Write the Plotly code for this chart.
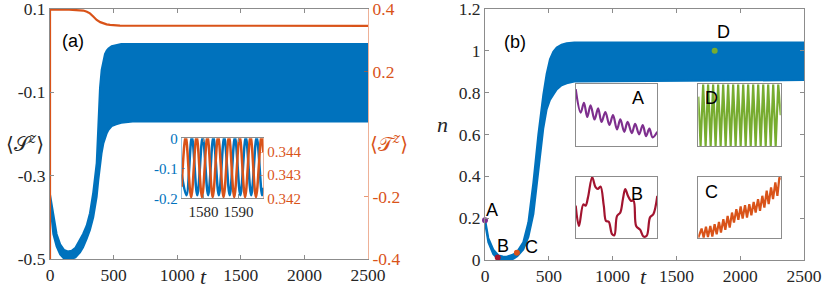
import plotly.graph_objects as go

W, H = 830, 294
def px(x): return x / W
def py(y): return 1 - y / H

BLUE = '#0072BD'; ORANGE = '#D95319'; PURPLE = '#7E2F8E'; GREEN = '#77AC30'; RED = '#A2142F'
GRAY = '#8c8c8c'; TXT = '#262626'
SERIF = 'Liberation Serif'
SANS = 'Liberation Sans'

# ---------------- Panel (a) data ----------------
ta_env = [0, 13, 26, 52, 80, 110, 140, 170, 200, 236, 260, 288, 314, 340, 367, 380, 393, 406,
          420, 432, 446, 460, 485, 520, 560, 650, 800, 2500]
sa_upper = [-0.345, -0.37, -0.40, -0.44, -0.465, -0.478, -0.482, -0.48, -0.473, -0.455, -0.44, -0.42,
            -0.39, -0.34, -0.27, -0.18, -0.09, -0.046, -0.024, -0.008, 0.0, 0.005, 0.011, 0.014,
            0.016, 0.016, 0.016, 0.016]
sa_lower = [-0.362, -0.41, -0.44, -0.47, -0.489, -0.499, -0.501, -0.5, -0.496, -0.484, -0.472, -0.452,
            -0.43, -0.40, -0.35, -0.31, -0.27, -0.245, -0.222, -0.21, -0.198, -0.19, -0.181, -0.177,
            -0.173, -0.17, -0.17, -0.17]
ta_T = [0, 0.1, 150, 230, 262, 290, 314, 340, 367, 395, 419, 445, 472, 550, 2500]
T_vals = [-0.4, 0.398, 0.398, 0.397, 0.395, 0.391, 0.386, 0.376, 0.365, 0.358, 0.354, 0.351, 0.349, 0.347, 0.346]

# inset (a)
ti_S = [1573.8, 1575.15, 1576.7, 1578.25, 1579.8, 1581.35, 1582.85, 1584.4, 1585.95, 1587.5, 1589.0,
        1590.55, 1592.1, 1593.65, 1595.2, 1596.74, 1597.1]
S_ins = [-0.12, -0.19, 0.005, -0.19, 0.005, -0.19, 0.005, -0.19, 0.005, -0.19, 0.005, -0.19, 0.005,
         -0.19, 0.005, -0.19, -0.165]
ti_T = [1573.8, 1574.95, 1576.5, 1578.05, 1579.6, 1581.15, 1582.65, 1584.2, 1585.75, 1587.3, 1588.8,
        1590.35, 1591.9, 1593.45, 1595.0, 1596.55, 1597.1]
T_ins = [0.3425, 0.3447, 0.34205, 0.3447, 0.34205, 0.3447, 0.34205, 0.3447, 0.34205, 0.3447, 0.34205,
         0.3447, 0.34205, 0.3447, 0.34205, 0.3447, 0.3440]

# ---------------- Panel (b) data ----------------
tb_env = [0, 26, 65, 105, 140, 170, 222, 253, 300, 340, 379, 418, 457, 483, 509, 535, 562, 600, 640, 700, 2500]
nb_upper = [0.195, 0.105, 0.05, 0.022, 0.017, 0.016, 0.026, 0.04, 0.085, 0.18, 0.37, 0.6, 0.79, 0.89,
            0.96, 0.995, 1.016, 1.03, 1.036, 1.04, 1.04]
nb_lower = [0.18, 0.085, 0.028, 0.003, -0.002, -0.002, 0.006, 0.018, 0.05, 0.11, 0.22, 0.42, 0.63, 0.72,
            0.765, 0.79, 0.815, 0.835, 0.845, 0.853, 0.86]
pt_labels = ['A', 'B', 'C', 'D']
pt_t = [0, 100, 250, 1800]
pt_n = [0.19, 0.012, 0.035, 1.0]
pt_colors = [PURPLE, RED, ORANGE, GREEN]

# inset curves (normalised window coordinates)
insA_x = [0, 0.061, 0.101, 0.142, 0.182, 0.231, 0.275, 0.316, 0.364, 0.413, 0.457, 0.506, 0.547, 0.595,
          0.636, 0.688, 0.729, 0.777, 0.822, 0.862, 0.903, 0.943, 1.0]
insA_y = [0.92, 0.54, 0.70, 0.47, 0.66, 0.43, 0.61, 0.39, 0.55, 0.34, 0.50, 0.27, 0.43, 0.23, 0.39, 0.21,
          0.36, 0.19, 0.34, 0.16, 0.28, 0.14, 0.23]
insB_x = [0, 0.040, 0.093, 0.121, 0.150, 0.202, 0.243, 0.271, 0.304, 0.344, 0.372, 0.405, 0.445, 0.474,
          0.506, 0.547, 0.579, 0.607, 0.640, 0.676, 0.709, 0.741, 0.789, 0.830, 0.870, 0.911, 0.951, 1.0]
insB_y = [0.53, 0.20, 0.55, 0.53, 0.66, 0.99, 0.83, 0.80, 0.84, 0.53, 0.28, 0.27, 0.07, 0.05, 0.36, 0.42,
          0.64, 0.80, 0.69, 0.61, 0.61, 0.20, 0.14, 0.03, 0.04, 0.34, 0.39, 0.69]
insC_x = [0, 0.040, 0.065, 0.093, 0.117, 0.146, 0.170, 0.198, 0.223, 0.251, 0.275, 0.304, 0.328, 0.356,
          0.381, 0.409, 0.433, 0.462, 0.486, 0.514, 0.538, 0.567, 0.591, 0.619, 0.644, 0.672, 0.696,
          0.725, 0.749, 0.777, 0.802, 0.830, 0.854, 0.883, 0.907, 0.935, 0.960, 0.984, 1.0]
insC_y = [0.01, 0.158, 0.011, 0.19, 0.022, 0.20, 0.027, 0.228, 0.065, 0.266, 0.092, 0.31, 0.136, 0.364,
          0.174, 0.418, 0.255, 0.473, 0.30, 0.516, 0.32, 0.538, 0.337, 0.554, 0.375, 0.592, 0.418, 0.636,
          0.446, 0.69, 0.5, 0.772, 0.554, 0.826, 0.636, 0.908, 0.69, 0.99, 0.95]
insD_x = [0, 0.028, 0.059, 0.089, 0.119, 0.150, 0.180, 0.210, 0.241, 0.271, 0.302, 0.332, 0.362, 0.393,
          0.423, 0.453, 0.484, 0.514, 0.545, 0.575, 0.605, 0.636, 0.666, 0.696, 0.727, 0.757, 0.788,
          0.818, 0.848, 0.879, 0.909, 0.939, 0.970, 1.0]
insD_y = [0.8, 0.0, 1.0, 0.0, 1.0, 0.0, 1.0, 0.0, 1.0, 0.0, 1.0, 0.0, 1.0, 0.0, 1.0, 0.0, 1.0, 0.0, 1.0,
          0.0, 1.0, 0.0, 1.0, 0.0, 1.0, 0.0, 1.0, 0.0, 1.0, 0.0, 1.0, 0.0, 1.0, 0.5]

fig = go.Figure()

def line(x, y, xa, ya, color, width, shape='linear', **kw):
    fig.add_trace(go.Scatter(x=x, y=y, mode='lines', xaxis=xa, yaxis=ya, showlegend=False,
                             hoverinfo='skip', line=dict(color=color, width=width, shape=shape), **kw))

# panel (a)
line(ta_env, sa_upper, 'x', 'y', BLUE, 2)
line(ta_env, sa_lower, 'x', 'y', BLUE, 2, fill='tonexty', fillcolor=BLUE)
line(ta_T, T_vals, 'x', 'y2', ORANGE, 2.2)
# inset (a)
line(ti_S, S_ins, 'x3', 'y4', BLUE, 2.5, 'spline')
line(ti_T, T_ins, 'x3', 'y5', ORANGE, 2.5, 'spline')
# panel (b)
line(tb_env, nb_upper, 'x2', 'y3', BLUE, 2)
line(tb_env, nb_lower, 'x2', 'y3', BLUE, 2, fill='tonexty', fillcolor=BLUE)
fig.add_trace(go.Scatter(x=pt_t, y=pt_n, mode='markers', xaxis='x2', yaxis='y3', showlegend=False,
                         hoverinfo='skip', cliponaxis=False, marker=dict(color=pt_colors, size=6)))
# insets (b)
line(insA_x, insA_y, 'x4', 'y6', PURPLE, 2.2, 'spline')
line(insD_x, insD_y, 'x5', 'y7', GREEN, 2.2)
line(insB_x, insB_y, 'x6', 'y8', RED, 2.2, 'spline')
line(insC_x, insC_y, 'x7', 'y9', ORANGE, 2.2)

tickf = dict(family=SERIF, size=17.5, color=TXT)
tickf_s = dict(family=SERIF, size=15, color=TXT)
common = dict(showgrid=False, zeroline=False, showline=True, linecolor=GRAY, linewidth=1,
              ticks='inside', ticklen=4, tickcolor=GRAY, automargin=False, ticklabeloverflow='allow')
plain = dict(showgrid=False, zeroline=False, showline=True, linewidth=1, automargin=False,
             ticklabeloverflow='allow')

layout = dict(
    width=W, height=H, margin=dict(l=0, r=0, t=0, b=0, autoexpand=False),
    paper_bgcolor='white', plot_bgcolor='white', showlegend=False,
    xaxis=dict(domain=[px(50), px(368)], anchor='y', range=[0, 2500], mirror='ticks',
               tickvals=[0, 500, 1000, 1500, 2000, 2500], tickfont=tickf, **common),
    yaxis=dict(domain=[py(259), py(9)], anchor='x', range=[-0.5, 0.1],
               tickvals=[-0.5, -0.3, -0.1, 0.1], ticktext=['-0.5', '-0.3', '-0.1', '0.1'],
               tickfont=tickf, **common),
    yaxis2=dict(overlaying='y', side='right', anchor='x', range=[-0.4, 0.4],
                tickvals=[-0.4, -0.2, 0.2, 0.4], ticktext=['-0.4', '-0.2', '0.2', '0.4'],
                tickfont=dict(family=SERIF, size=17.5, color=ORANGE),
                linecolor='rgba(217,83,25,0.45)', ticks='inside',
                ticklen=4, tickcolor='rgba(217,83,25,0.6)', **plain),
    xaxis2=dict(domain=[px(485), px(804)], anchor='y3', range=[0, 2500], mirror='ticks',
                tickvals=[0, 500, 1000, 1500, 2000, 2500], tickfont=tickf, **common),
    yaxis3=dict(domain=[py(260), py(9)], anchor='x2', range=[0, 1.2], mirror='ticks',
                tickvals=[0, 0.2, 0.4, 0.6, 0.8, 1.0, 1.2],
                ticktext=['0', '0.2', '0.4', '0.6', '0.8', '1', '1.2'], tickfont=tickf, **common),
    xaxis3=dict(domain=[px(181.7), px(263.3)], anchor='y4', range=[1573.8, 1597.1], mirror='ticks',
                tickvals=[1580, 1590], tickfont=tickf_s, **common),
    yaxis4=dict(domain=[py(198.3), py(138.3)], anchor='x3', range=[-0.2, 0],
                tickvals=[-0.2, -0.1, 0], ticktext=['-0.2', '-0.1', '0'],
                tickfont=dict(family=SERIF, size=15, color=BLUE),
                linecolor='rgba(0,114,189,0.4)', ticks='inside',
                ticklen=3, tickcolor='rgba(0,114,189,0.5)', **plain),
    yaxis5=dict(overlaying='y4', side='right', anchor='x3', range=[0.342, 0.3446],
                tickvals=[0.342, 0.343, 0.344], ticktext=['0.342', '0.343', '0.344'],
                tickfont=dict(family=SERIF, size=15, color=ORANGE),
                linecolor='rgba(217,83,25,0.45)', ticks='inside',
                ticklen=3, tickcolor='rgba(217,83,25,0.5)', **plain),
)

inset_boxes = {4: (575.7, 657.3, 84.3, 146), 5: (698.3, 780.7, 84.3, 146),
               6: (575.7, 657.3, 176.7, 238.3), 7: (698.3, 780.7, 176.7, 238.3)}
for i, (x0, x1, y0, y1) in inset_boxes.items():
    yi = i + 2
    layout[f'xaxis{i}'] = dict(domain=[px(x0), px(x1)], anchor=f'y{yi}', range=[0, 1], mirror=True,
                               linecolor=GRAY, showticklabels=False, ticks='', **plain)
    layout[f'yaxis{yi}'] = dict(domain=[py(y1), py(y0)], anchor=f'x{i}', range=[0, 1], mirror=True,
                                linecolor=GRAY, showticklabels=False, ticks='', **plain)

fig.update_layout(**layout)

def ann(x, y, text, size, family=SANS, color='black', **kw):
    fig.add_annotation(x=px(x), y=py(y), xref='paper', yref='paper', text=text, showarrow=False,
                       font=dict(family=family, size=size, color=color), xanchor='center',
                       yanchor='middle', **kw)

ann(72.7, 40.7, '(a)', 18)
ann(515, 41.7, '(b)', 18)
ann(25, 143, '⟨𝒮<sup><i>z</i></sup>⟩', 20, family='DejaVu Serif', color=TXT)
ann(389, 143, '⟨𝒯<sup><i>z</i></sup>⟩', 20, family='DejaVu Serif', color=ORANGE)
ann(203, 276, '<i>t</i>', 22, family=SERIF, color=TXT)
ann(643, 276, '<i>t</i>', 22, family=SERIF, color=TXT)
ann(442, 125, '<i>n</i>', 22, family=SERIF, color=TXT)
# point labels
ann(491.7, 210, 'A', 18)
ann(503.3, 246, 'B', 18)
ann(531.7, 246.7, 'C', 18)
ann(723.3, 31.7, 'D', 18)
ann(638.3, 98.3, 'A', 18)
ann(711.3, 98.3, 'D', 18)
ann(636.7, 193.7, 'B', 18)
ann(711.3, 192, 'C', 18)

fig.write_html('out.html', config={'displayModeBar': False},
               post_script="document.body.style.margin='0px';document.body.style.overflow='hidden';")
